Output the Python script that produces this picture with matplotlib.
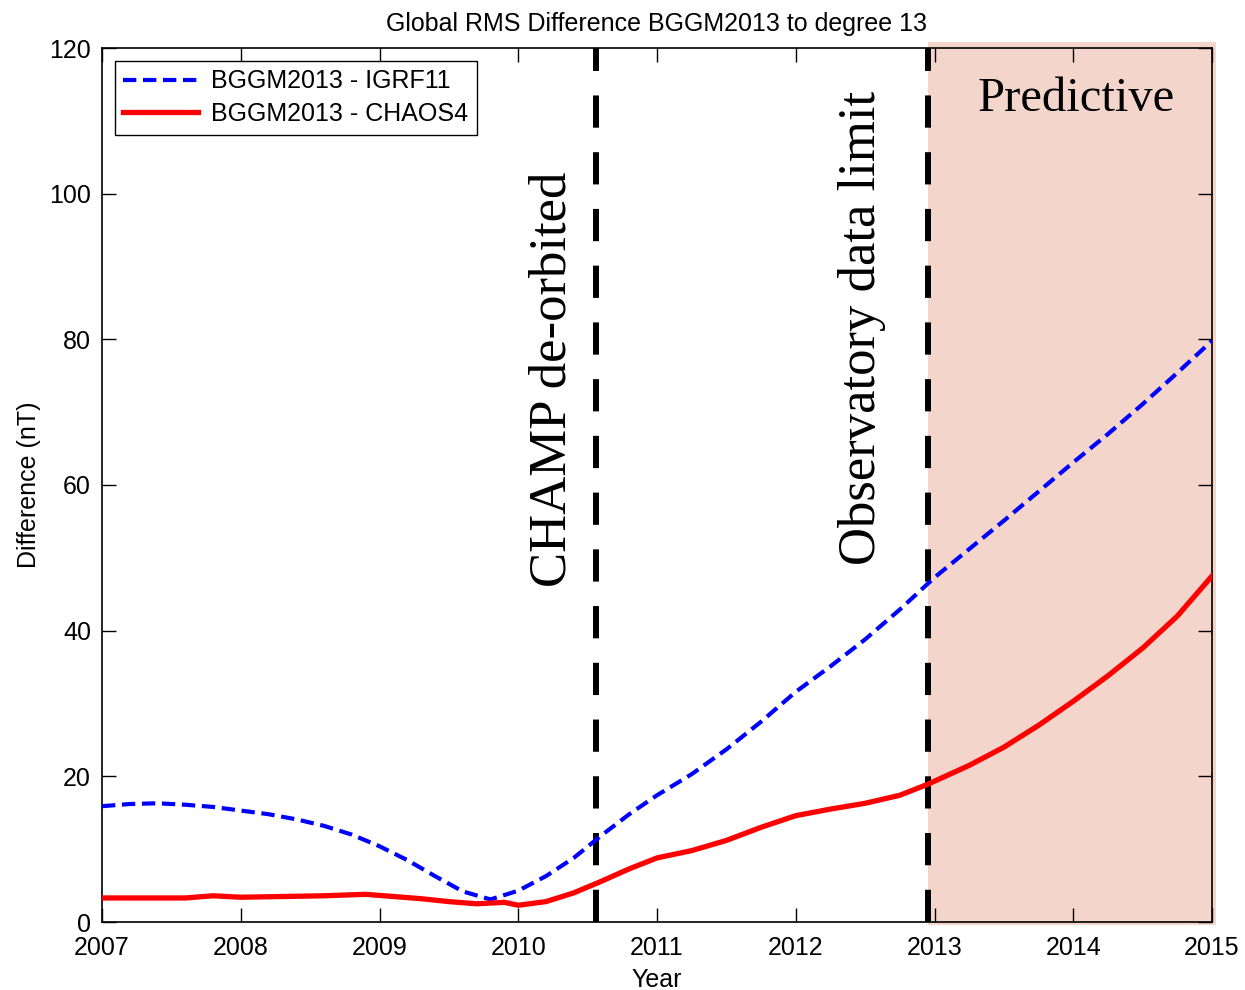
import matplotlib
matplotlib.use('Agg')
import matplotlib.pyplot as plt
from matplotlib.patches import Rectangle

# 데이터
years_igrf = [2007.0, 2007.2, 2007.4, 2007.6, 2007.8, 2008.0, 2008.2, 2008.4, 2008.6, 2008.8,
              2009.0, 2009.2, 2009.4, 2009.6, 2009.8, 2010.0, 2010.2, 2010.4, 2010.6, 2010.8,
              2011.0, 2011.25, 2011.5, 2011.75, 2012.0, 2012.25, 2012.5, 2012.75, 2013.0,
              2013.25, 2013.5, 2013.75, 2014.0, 2014.25, 2014.5, 2014.75, 2015.0]
diff_igrf = [15.9, 16.2, 16.3, 16.1, 15.8, 15.3, 14.8, 14.1, 13.2, 12.0,
             10.4, 8.5, 6.3, 4.2, 3.1, 4.3, 6.3, 8.8, 11.9, 14.8,
             17.4, 20.3, 23.7, 27.5, 31.6, 35.1, 38.8, 42.9, 47.3,
             51.2, 55.1, 59.1, 63.1, 67.0, 71.1, 75.4, 79.8]

years_chaos = [2007.0, 2007.3, 2007.6, 2007.8, 2008.0, 2008.3, 2008.6, 2008.9, 2009.1,
               2009.3, 2009.5, 2009.7, 2009.9, 2010.0, 2010.2, 2010.4, 2010.6, 2010.8,
               2011.0, 2011.25, 2011.5, 2011.75, 2012.0, 2012.25, 2012.5, 2012.75, 2012.95,
               2013.25, 2013.5, 2013.75, 2014.0, 2014.25, 2014.5, 2014.75, 2015.0]
diff_chaos = [3.3, 3.3, 3.3, 3.6, 3.4, 3.5, 3.6, 3.8, 3.5,
              3.2, 2.8, 2.5, 2.7, 2.3, 2.8, 4.0, 5.6, 7.3,
              8.8, 9.8, 11.2, 13.0, 14.6, 15.5, 16.3, 17.4, 18.9,
              21.5, 24.0, 27.0, 30.3, 33.8, 37.6, 42.0, 47.5]

champ_year = 2010.56
obs_limit_year = 2012.95
x_ticks = [2007, 2008, 2009, 2010, 2011, 2012, 2013, 2014, 2015]
y_ticks = [0, 20, 40, 60, 80, 100, 120]

plt.rcParams['font.family'] = ['Liberation Sans', 'DejaVu Sans']

fig = plt.figure(figsize=(12.45, 9.9), dpi=100)
ax = fig.add_axes([102 / 1245, 1 - 922 / 990, 1110 / 1245, 874 / 990])

# 예측 구간 음영
ax.add_patch(Rectangle((obs_limit_year, -0.4), 2015.03 - obs_limit_year, 121.2,
                       facecolor='#f3d5cb', edgecolor='none', zorder=0, clip_on=False))

ax.plot(years_igrf, diff_igrf, '--', color='#0000ff', lw=3.0, dashes=(3.2, 1.6),
        label='BGGM2013 - IGRF11', zorder=3)
ax.plot(years_chaos, diff_chaos, '-', color='#ff0000', lw=3.8, label='BGGM2013 - CHAOS4', zorder=3)

for xv in [champ_year, obs_limit_year]:
    ax.axvline(xv, color='black', lw=4.3, ls=(0, (5.4, 4.1)), zorder=2)

serif = ['Liberation Serif', 'DejaVu Serif']
ax.text(2010.25, 74.5, 'CHAMP de-orbited', rotation=90, fontsize=38, family=serif,
        ha='center', va='center')
ax.text(2012.48, 81.6, 'Observatory data limit', rotation=90, fontsize=38, family=serif,
        ha='center', va='center')
ax.text(2014.02, 113.0, 'Predictive', fontsize=35, family=serif, ha='center', va='center')

ax.set_xlim(2007, 2015)
ax.set_ylim(0, 120)
ax.set_xticks(x_ticks)
ax.set_yticks(y_ticks)
ax.tick_params(direction='in', length=10, width=1, top=True, right=True, labelsize=18)
ax.tick_params(axis='x', pad=10)
ax.tick_params(axis='y', pad=8)
for s in ax.spines.values():
    s.set_linewidth(1.2)

ax.set_title('Global RMS Difference BGGM2013 to degree 13', fontsize=18, pad=12)
ax.set_xlabel('Year', fontsize=18, labelpad=6)
ax.set_ylabel('Difference (nT)', fontsize=18, labelpad=6)

leg = ax.legend(loc='upper left', fontsize=18, fancybox=False, edgecolor='black',
                framealpha=1, handlelength=3.0, handletextpad=0.5, borderaxespad=0.5,
                borderpad=0.35, labelspacing=0.35)
leg.get_frame().set_linewidth(1)

fig.savefig('out.png', dpi=100)
